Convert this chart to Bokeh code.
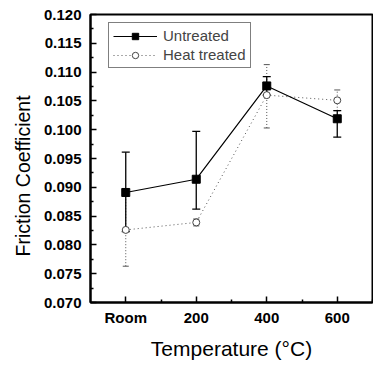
from bokeh.plotting import figure
from bokeh.models import (FixedTicker, PrintfTickFormatter, ColumnDataSource, Whisker,
                          TeeHead, Legend, LegendItem, Range1d, Title)
from bokeh.embed import file_html
from bokeh.resources import INLINE

categories = ["Room", "200", "400", "600"]
untreated = [0.0891, 0.0914, 0.1076, 0.1019]
untreated_upper = [0.0961, 0.0997, 0.1092, 0.1033]
untreated_lower = [0.0823, 0.0862, 0.1060, 0.0987]
heat = [0.0826, 0.0839, 0.1060, 0.1051]
heat_upper = [0.0889, 0.0845, 0.1113, 0.1069]
heat_lower = [0.0763, 0.0833, 0.1003, 0.1033]
y_ticks = [0.070, 0.075, 0.080, 0.085, 0.090, 0.095, 0.100, 0.105, 0.110, 0.115, 0.120]
y_minor = [0.0725, 0.0775, 0.0825, 0.0875, 0.0925, 0.0975, 0.1025, 0.1075, 0.1125, 0.1175]

xs = list(range(len(categories)))
x_minor = [i + 0.5 for i in xs]

FONT = "Liberation Sans"

p = figure(width=373, height=367, output_backend="svg", toolbar_location=None,
           x_range=Range1d(-0.5, 3.5), y_range=Range1d(0.070, 0.120),
           min_border_left=90, min_border_right=1, min_border_top=14, min_border_bottom=65)
p.grid.visible = False
p.background_fill_color = "white"
p.border_fill_color = "white"
p.outline_line_color = "black"
p.outline_line_width = 2

src_u = ColumnDataSource(dict(x=xs, y=untreated, up=untreated_upper, lo=untreated_lower))
src_h = ColumnDataSource(dict(x=xs, y=heat, up=heat_upper, lo=heat_lower))

# heat treated
wh = Whisker(source=src_h, base="x", upper="up", lower="lo",
             line_color="#555555", line_width=1, line_dash="1 2",
             upper_head=TeeHead(size=6, line_color="#555555", line_width=1),
             lower_head=TeeHead(size=6, line_color="#555555", line_width=1))
p.add_layout(wh)
lh = p.line("x", "y", source=src_h, line_color="#555555", line_width=1, line_dash="1 3")
mh = p.scatter("x", "y", source=src_h, marker="circle", size=7, fill_color="white",
               line_color="#444444", line_width=1)

# untreated
wu = Whisker(source=src_u, base="x", upper="up", lower="lo",
             line_color="black", line_width=1.3,
             upper_head=TeeHead(size=8, line_color="black", line_width=1.3),
             lower_head=TeeHead(size=8, line_color="black", line_width=1.3))
p.add_layout(wu)
lu = p.line("x", "y", source=src_u, line_color="black", line_width=1.2)
mu = p.scatter("x", "y", source=src_u, marker="square", size=8, fill_color="black",
               line_color="black")

# axes
p.xaxis.ticker = FixedTicker(ticks=xs, minor_ticks=x_minor)
p.xaxis.major_label_overrides = {i: c for i, c in zip(xs, categories)}
p.yaxis.ticker = FixedTicker(ticks=y_ticks, minor_ticks=y_minor)
p.yaxis.formatter = PrintfTickFormatter(format="%.3f")

for ax in (p.xaxis[0], p.yaxis[0]):
    ax.axis_line_width = 2
    ax.axis_line_color = "black"
    ax.major_tick_in = 6
    ax.major_tick_out = 0
    ax.minor_tick_in = 3
    ax.minor_tick_out = 0
    ax.major_tick_line_width = 1.5
    ax.minor_tick_line_width = 1.5
    ax.major_label_text_font = FONT
    ax.major_label_text_font_size = "15px"
    ax.major_label_text_font_style = "bold"
    ax.major_label_text_color = "black"
    ax.axis_label_text_font = FONT
    ax.axis_label_text_font_style = "normal"
    ax.axis_label_text_color = "black"

p.yaxis.major_label_standoff = 9
p.xaxis.major_label_standoff = 6
p.xaxis.axis_label = "Temperature (°C)"
p.xaxis.axis_label_text_font_size = "21px"
p.xaxis.axis_label_standoff = 8

# y axis title (sits a little below the frame centre, as in the original)
ytitle = Title(text="Friction Coefficient", align="left", offset=46, standoff=14,
               text_font=FONT, text_font_size="19.5px", text_font_style="normal",
               text_color="black")
p.add_layout(ytitle, "left")

legend = Legend(items=[LegendItem(label="Untreated", renderers=[lu, mu]),
                       LegendItem(label="Heat treated", renderers=[lh, mh])],
                location=(18, 234), margin=0, padding=4, spacing=2,
                glyph_height=16, glyph_width=44, label_standoff=6,
                label_text_font=FONT, label_text_font_size="15px",
                label_height=16,
                border_line_color="black", border_line_width=1.5,
                background_fill_alpha=1)
p.add_layout(legend, "center")

open("out.html", "w").write(file_html(p, INLINE))
